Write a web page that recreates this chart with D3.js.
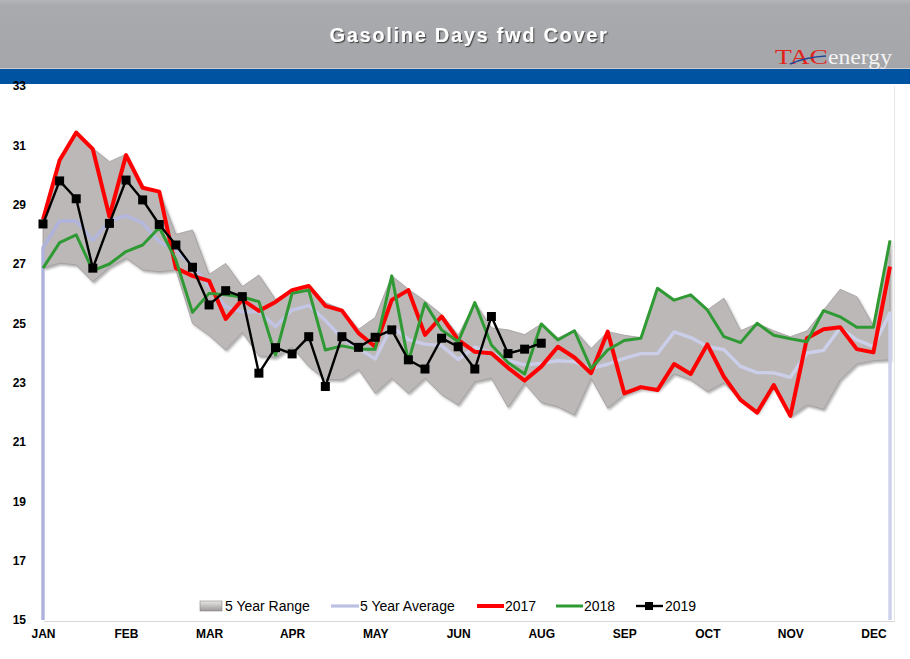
<!DOCTYPE html>
<html><head><meta charset="utf-8">
<script src="https://cdn.jsdelivr.net/npm/d3@7"></script>
<style>
html,body{margin:0;padding:0;background:#fff;}
svg{display:block;font-family:"Liberation Sans",Arial,sans-serif;}
</style></head>
<body>
<svg id="chart" width="910" height="659"></svg>
<script>
// ---------- DATA ----------
const title = "Gasoline Days fwd Cover";
const weeks = d3.range(52);
const monthTickIdx = [0,5,10,15,20,25,30,35,40,45,50];
const monthLabels = ["JAN","FEB","MAR","APR","MAY","JUN","AUG","SEP","OCT","NOV","DEC"];
const yTicks = [15,17,19,21,23,25,27,29,31,33];

const rangeHigh = [28.5,30.55,31.45,30.9,30.45,30.7,29.6,29.45,28.0,28.15,
  26.65,27.02,26.24,26.63,25.8,26.15,26.3,25.7,25.48,24.8,
  25.2,26.6,26.15,25.75,25.3,24.6,25.7,24.85,24.78,24.62,
  24.98,24.5,24.78,24.15,24.72,24.6,24.52,26.2,25.8,25.96,
  25.45,25.85,24.75,25.0,24.75,24.55,24.75,25.45,26.15,25.9,
  24.92,27.8];
const rangeLow = [26.86,27.03,26.97,26.4,26.9,27.2,26.8,26.74,26.8,25.0,
  24.6,24.1,24.7,23.9,23.85,24.2,23.55,23.1,23.1,23.45,
  22.64,23.15,22.64,23.15,22.6,22.25,23.03,23.15,22.17,22.98,
  22.33,22.19,21.91,23.15,22.14,22.59,22.8,22.75,23.3,23.1,
  22.7,23.0,22.42,21.99,22.87,21.86,22.25,22.1,23.09,23.63,
  23.74,23.77];
const avg5 = [27.55,28.45,28.45,27.8,28.45,28.63,28.38,27.75,27.48,26.95,
  26.24,25.56,25.39,25.39,24.89,25.45,25.6,25.1,24.5,24.15,
  23.8,24.9,24.45,24.3,24.25,23.78,24.2,24.0,23.75,23.6,
  23.65,23.74,23.7,23.48,23.62,23.82,23.98,23.98,24.71,24.52,
  24.22,24.11,23.55,23.34,23.33,23.18,24.0,24.09,24.85,24.44,
  24.22,25.35];
const y2017 = [28.5,30.5,31.43,30.87,28.6,30.67,29.57,29.44,26.86,26.6,
  26.43,25.15,25.8,25.42,25.72,26.12,26.26,25.59,25.43,24.67,
  24.21,25.79,26.12,24.61,25.23,24.44,24.04,23.99,23.5,23.07,
  23.54,24.21,23.85,23.32,24.72,22.64,22.85,22.75,23.63,23.29,
  24.29,23.2,22.42,21.99,22.92,21.88,24.5,24.8,24.87,24.13,
  24.02,26.91];
const y2018 = [26.86,27.72,27.98,26.78,27.0,27.42,27.64,28.23,27.14,25.37,
  26.01,25.96,25.89,25.73,23.93,26.01,26.12,24.1,24.24,24.13,
  24.13,26.6,23.71,25.68,24.78,24.38,25.7,24.27,23.68,23.29,
  24.98,24.44,24.75,23.48,24.1,24.42,24.5,26.18,25.78,25.96,
  25.45,24.55,24.35,25.0,24.6,24.48,24.38,25.43,25.22,24.87,
  24.87,27.79];
const y2019 = [28.35,29.8,29.2,26.86,28.37,29.83,29.16,28.33,27.64,26.89,
  25.62,26.1,25.9,23.32,24.18,23.97,24.55,22.87,24.55,24.19,
  24.53,24.78,23.77,23.46,24.5,24.21,23.46,25.23,23.98,24.13,
  24.33];
const legendNames = ["5 Year Range","5 Year Average","2017","2018","2019"];

// ---------- CHART ----------
const svg = d3.select("#chart");
const W = 910, H = 659;
const defs = svg.append("defs");
const sh = defs.append("filter").attr("id","bevel").attr("x","-5%").attr("y","-5%").attr("width","110%").attr("height","115%");
sh.append("feDropShadow").attr("dx",1.5).attr("dy",2).attr("stdDeviation",1.3).attr("flood-color","#555").attr("flood-opacity",0.45);
const tsh = defs.append("filter").attr("id","tshadow");
tsh.append("feDropShadow").attr("dx",1.2).attr("dy",1.2).attr("stdDeviation",0.6).attr("flood-color","#333").attr("flood-opacity",0.8);
const lg = defs.append("linearGradient").attr("id","hdr").attr("x1",0).attr("y1",0).attr("x2",0).attr("y2",1);
lg.append("stop").attr("offset","0%").attr("stop-color","#b4b5b8");
lg.append("stop").attr("offset","8%").attr("stop-color","#a9aaad");
lg.append("stop").attr("offset","100%").attr("stop-color","#a5a6a9");
const sg = defs.append("linearGradient").attr("id","swatch").attr("x1",0).attr("y1",0).attr("x2",0).attr("y2",1);
sg.append("stop").attr("offset","0%").attr("stop-color","#e8e6e6");
sg.append("stop").attr("offset","100%").attr("stop-color","#9c9898");
const ag = defs.append("linearGradient").attr("id","avgGrad").attr("gradientUnits","userSpaceOnUse")
  .attr("x1",43).attr("y1",0).attr("x2",890).attr("y2",0);
ag.append("stop").attr("offset","0%").attr("stop-color","#aeb1da");
ag.append("stop").attr("offset","40%").attr("stop-color","#c9cbe8");
ag.append("stop").attr("offset","100%").attr("stop-color","#cdd0ea");

// header
svg.append("rect").attr("x",0).attr("y",0).attr("width",W).attr("height",69).attr("fill","url(#hdr)");
svg.append("rect").attr("x",0).attr("y",69).attr("width",W).attr("height",15).attr("fill","#0053a1");
svg.append("line").attr("x1",0).attr("x2",W).attr("y1",68.5).attr("y2",68.5).attr("stroke","#c9cacd").attr("stroke-width",1);
svg.append("text").attr("x",469).attr("y",42).attr("text-anchor","middle")
  .attr("font-size",20).attr("font-weight","bold").attr("letter-spacing",1.7)
  .attr("fill","#fff").attr("filter","url(#tshadow)").text(title);
// logo
const logo = svg.append("g");
logo.append("text").attr("x",775).attr("y",64).attr("font-family","'Liberation Serif','DejaVu Serif',serif")
  .attr("font-size",22).attr("fill","#e2231a").attr("textLength",53).attr("lengthAdjust","spacingAndGlyphs").text("TAC");
logo.append("path").attr("d","M790,64 Q806,57 826,56").attr("fill","none").attr("stroke","#1d4796").attr("stroke-width",1.6);
logo.append("text").attr("x",828).attr("y",64).attr("font-family","'Liberation Serif','DejaVu Serif',serif")
  .attr("font-size",22).attr("fill","#f3f3f3").attr("textLength",64).attr("lengthAdjust","spacingAndGlyphs").text("energy");

// scales
const x = d3.scalePoint().domain(weeks).range([43, 890]);
const y = d3.scaleLinear().domain([15, 33]).range([620, 86]);

// frame
svg.append("line").attr("x1",44).attr("x2",895).attr("y1",621.5).attr("y2",621.5).attr("stroke","#d6d6d6").attr("stroke-width",1.2);
svg.append("line").attr("x1",894.5).attr("x2",894.5).attr("y1",86).attr("y2",621.5).attr("stroke","#e6e6e6").attr("stroke-width",1);

// range area
const area = d3.area().x((d,i)=>x(i)).y0((d,i)=>y(rangeLow[i])).y1((d,i)=>y(rangeHigh[i]));
svg.append("path").datum(weeks).attr("d",area).attr("fill","#bcb8b8")
  .attr("stroke","#9b9797").attr("stroke-width",0.7).attr("filter","url(#bevel)");

// average line with drop to axis at both ends
const avgPts = [[x(0), y(15)]].concat(avg5.map((v,i)=>[x(i), y(v)])).concat([[x(51), y(15)]]);
svg.append("path").attr("d", d3.line()(avgPts)).attr("fill","none")
  .attr("stroke","url(#avgGrad)").attr("stroke-width",3.4).attr("stroke-linejoin","round");

const line = d3.line().x((d,i)=>x(i)).y(d=>y(d));
svg.append("path").datum(y2017).attr("d",line).attr("fill","none").attr("stroke","#ff0000").attr("stroke-width",4).attr("stroke-linejoin","round");
svg.append("path").datum(y2018).attr("d",line).attr("fill","none").attr("stroke","#2f9a33").attr("stroke-width",3).attr("stroke-linejoin","round");
svg.append("path").datum(y2019).attr("d",line).attr("fill","none").attr("stroke","#000").attr("stroke-width",2.4).attr("stroke-linejoin","round");
svg.append("g").selectAll("rect").data(y2019).join("rect")
  .attr("x",(d,i)=>x(i)-4.5).attr("y",d=>y(d)-4.5).attr("width",9).attr("height",9).attr("fill","#000");

// axes
const yAxis = svg.append("g").attr("transform","translate(28,0)")
  .call(d3.axisLeft(y).tickValues(yTicks).tickSize(0).tickPadding(2));
yAxis.select(".domain").remove();
yAxis.selectAll("text").attr("font-size",12).attr("font-weight","bold").attr("fill","#000")
  .attr("font-family","'Liberation Sans Narrow','Liberation Sans',Arial,sans-serif");

const xAxis = svg.append("g").attr("transform","translate(0,622)")
  .call(d3.axisBottom(x).tickValues(monthTickIdx).tickFormat((d)=>monthLabels[monthTickIdx.indexOf(d)]).tickSize(0).tickPadding(7));
xAxis.select(".domain").remove();
xAxis.selectAll("text").attr("font-size",12).attr("font-weight","bold").attr("fill","#000")
  .attr("font-family","'Liberation Sans Narrow','Liberation Sans',Arial,sans-serif");

// legend
const ly = 606;
const leg = svg.append("g").attr("font-size",14).attr("fill","#000")
  .attr("font-family","'Liberation Sans Narrow','Liberation Sans',Arial,sans-serif");
leg.append("rect").attr("x",200).attr("y",ly-5).attr("width",22).attr("height",10).attr("fill","url(#swatch)").attr("stroke","#8a8686").attr("stroke-width",0.6);
leg.append("text").attr("x",225).attr("y",ly).attr("dy","0.35em").text(legendNames[0]);
leg.append("line").attr("x1",331).attr("x2",359).attr("y1",ly).attr("y2",ly).attr("stroke","#bcc0e3").attr("stroke-width",3.2);
leg.append("text").attr("x",360).attr("y",ly).attr("dy","0.35em").text(legendNames[1]);
leg.append("line").attr("x1",477).attr("x2",504).attr("y1",ly).attr("y2",ly).attr("stroke","#ff0000").attr("stroke-width",4);
leg.append("text").attr("x",505).attr("y",ly).attr("dy","0.35em").text(legendNames[2]);
leg.append("line").attr("x1",556).attr("x2",583).attr("y1",ly).attr("y2",ly).attr("stroke","#2f9a33").attr("stroke-width",3);
leg.append("text").attr("x",584).attr("y",ly).attr("dy","0.35em").text(legendNames[3]);
leg.append("line").attr("x1",636).attr("x2",663).attr("y1",ly).attr("y2",ly).attr("stroke","#000").attr("stroke-width",2.4);
leg.append("rect").attr("x",645).attr("y",ly-4).attr("width",8).attr("height",8).attr("fill","#000");
leg.append("text").attr("x",665).attr("y",ly).attr("dy","0.35em").text(legendNames[4]);
</script>
</body></html>
